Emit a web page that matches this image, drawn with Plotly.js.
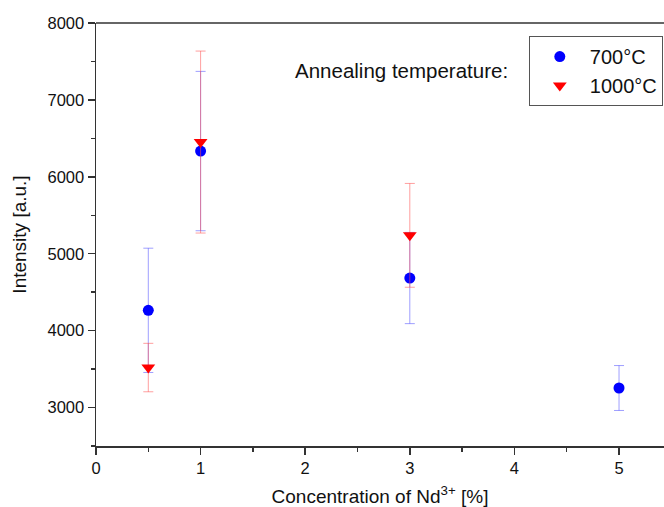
<!DOCTYPE html>
<html>
<head>
<meta charset="utf-8">
<script src="https://cdn.plot.ly/plotly-3.0.1.min.js"></script>
<style>html,body{margin:0;padding:0;background:#fff;}#chart{width:664px;height:507px;}</style>
</head>
<body>
<div id="chart"></div>
<script>
// Data
const concentration700 = [0.5, 1, 3, 5];
const intensity700 = [4264, 6335, 4684, 3254];
const error700 = [808, 1036, 593, 292];

const concentration1000 = [0.5, 1, 3];
const intensity1000 = [3520, 6452, 5239];
const error1000 = [315, 1183, 675];

const seriesNames = ['700°C', '1000°C'];
const xTitle = 'Concentration of Nd<sup>3+</sup> [%]';
const yTitle = 'Intensity [a.u.]';
const noteText = 'Annealing temperature:';

const font = 'Arial, "Liberation Sans", sans-serif';
const axisColor = '#333333';

const traces = [
  {
    x: concentration700, y: intensity700, name: seriesNames[0],
    type: 'scatter', mode: 'markers',
    marker: {symbol: 'circle', size: 11, color: '#0000ff'},
    error_y: {type: 'data', array: error700, visible: true,
      color: 'rgba(80,80,255,0.55)', thickness: 1, width: 5}
  },
  {
    x: concentration1000, y: intensity1000, name: seriesNames[1],
    type: 'scatter', mode: 'markers',
    marker: {symbol: 'triangle-down', size: 12, color: '#ff0000'},
    error_y: {type: 'data', array: error1000, visible: true,
      color: 'rgba(255,80,80,0.55)', thickness: 1, width: 5}
  }
];

const layout = {
  width: 664, height: 507,
  margin: {l: 96, r: 0, t: 23, b: 61, pad: 0},
  paper_bgcolor: '#ffffff', plot_bgcolor: '#ffffff',
  font: {family: font, color: '#111111', size: 16},
  showlegend: true,
  legend: {
    x: 0.762, y: 0.969, xanchor: 'left', yanchor: 'top',
    bordercolor: '#555555', borderwidth: 1, bgcolor: '#ffffff',
    font: {family: font, size: 20, color: '#111111'},
    itemwidth: 50, tracegroupgap: 0
  },
  xaxis: {
    range: [0, 5.43], tick0: 0, dtick: 1,
    showgrid: false, zeroline: false,
    showline: true, linecolor: axisColor, linewidth: 1.5,
    ticks: 'outside', ticklen: 7, tickwidth: 1.5, tickcolor: axisColor,
    tickfont: {family: font, size: 16.5, color: '#111111'},
    minor: {dtick: 0.5, ticks: 'outside', ticklen: 4, tickwidth: 1.5, tickcolor: axisColor, showgrid: false},
    title: {text: xTitle, font: {family: font, size: 19, color: '#111111'}, standoff: 17}
  },
  yaxis: {
    range: [2500, 8000], tick0: 0, dtick: 1000,
    showgrid: false, zeroline: false,
    showline: true, linecolor: axisColor, linewidth: 1.5,
    ticks: 'outside', ticklen: 7, tickwidth: 1.5, tickcolor: axisColor,
    tickfont: {family: font, size: 16.5, color: '#111111'},
    minor: {dtick: 500, ticks: 'outside', ticklen: 4, tickwidth: 1.5, tickcolor: axisColor, showgrid: false},
    title: {text: yTitle, font: {family: font, size: 19, color: '#111111'}, standoff: 16}
  },
  shapes: [{
    type: 'line', xref: 'paper', yref: 'paper', x0: 0, x1: 1, y0: 1, y1: 1,
    line: {color: axisColor, width: 1.5}
  }],
  annotations: [{
    text: noteText, xref: 'paper', yref: 'paper', x: 0.347, y: 0.888,
    xanchor: 'left', yanchor: 'middle', showarrow: false,
    font: {family: font, size: 20.5, color: '#111111'}
  }]
};

Plotly.newPlot('chart', traces, layout, {displayModeBar: false, staticPlot: true});
</script>
</body>
</html>
